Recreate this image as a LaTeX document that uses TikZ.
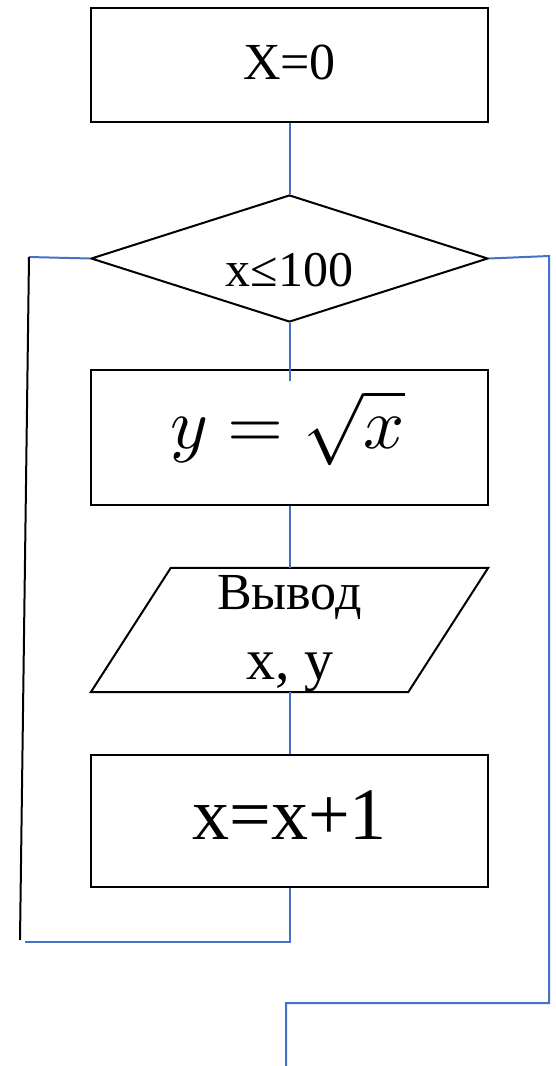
\documentclass[tikz,border=0pt]{standalone}
\usepackage{unicode-math}
\setmainfont{Liberation Serif}
\setmathfont{Latin Modern Math}
\usetikzlibrary{shapes.geometric}
\definecolor{flowblue}{RGB}{68,114,196}
\tikzset{
  blk/.style={draw=black, line width=2pt, inner sep=0pt},
  flow/.style={draw=flowblue, line width=2pt},
  back/.style={draw=black, line width=2pt},
  txt/.style={inner sep=0pt, text=black}
}
\begin{document}
\begin{tikzpicture}[x=1pt,y=-1pt]
\useasboundingbox (0,0) rectangle (555,1066);
% shapes
\node[blk, rectangle, minimum width=397pt, minimum height=114pt] (b1) at (289.5,65) {};
\node[txt, font=\fontsize{52}{56}\selectfont] (t1) at (289.5,62) {X=0};
\node[blk, diamond, minimum width=397pt, minimum height=127pt] (d) at (289.5,258.5) {};
\node[txt, font=\fontsize{50}{54}\selectfont] (td) at (289.5,270) {x≤100};
\node[blk, rectangle, minimum width=397pt, minimum height=135pt] (b3) at (289.5,437.5) {};
\node[txt, font=\fontsize{72}{76}\selectfont] (t3) at (287.5,428) {$y=\sqrt{x}$};
\node[inner sep=0pt, minimum width=317pt, minimum height=124pt] (io) at (289.5,630) {};
\draw[blk] ([xshift=40pt]io.north west) -- ([xshift=40pt]io.north east) -- ([xshift=-40pt]io.south east) -- ([xshift=-40pt]io.south west) -- cycle;
\node[txt, font=\fontsize{52}{56}\selectfont] (t4a) at (289.5,597) {Вывод};
\node[txt, font=\fontsize{58}{62}\selectfont] (t4b) at (289.5,672) {x, y};
\node[blk, rectangle, minimum width=397pt, minimum height=132pt] (b5) at (289.5,821) {};
\node[txt, font=\fontsize{74}{78}\selectfont] (t5) at (289.5,815) {x=x+1};
% coordinates
\coordinate (L1) at (29,257);
\coordinate (L2) at (20,940);
\coordinate (L3) at (25,942);
\coordinate (R1) at (549,256);
\coordinate (R2) at (549,1003);
\coordinate (R3) at (286,1003);
\coordinate (R4) at (286,1066);
\coordinate (E3) at (289.5,381);
% connectors
\draw[flow] (b1.south) -- (d.north);
\draw[flow] (d.south) -- (E3);
\draw[flow] (b3.south) -- (io.north);
\draw[flow] (io.south) -- (b5.north);
\draw[flow] (d.west) -- (L1);
\draw[back] (L1) -- (L2);
\draw[flow] (L3) -| (b5.south);
\draw[flow] (d.east) -- (R1) -- (R2) -- (R3) -- (R4);
\end{tikzpicture}
\end{document}
